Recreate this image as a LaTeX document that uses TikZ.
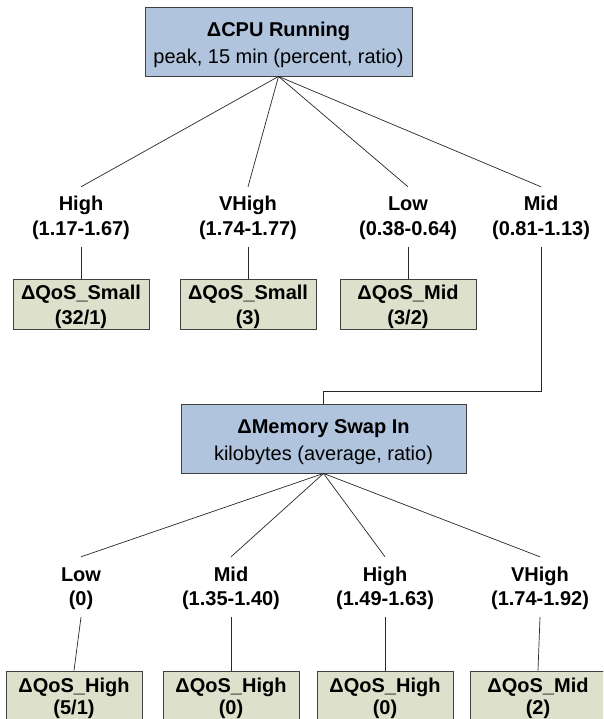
\documentclass[tikz,border=0pt]{standalone}
\usepackage{fontspec}
\setmainfont{Liberation Sans}
\definecolor{boxblue}{RGB}{176,196,222}
\definecolor{boxsage}{RGB}{221,225,203}
\definecolor{rimgray}{RGB}{64,64,64}
\definecolor{wiregray}{RGB}{40,40,40}
% two centred lines; the first baseline sits #1 above the node centre
\newcommand\twoline[3]{\raisebox{#1}[0pt][0pt]{\begin{tabular}[t]{@{}c@{}}#2\\#3\end{tabular}}}

\begin{document}
\begin{tikzpicture}[x=1pt,y=-1pt,
  metric/.style={draw=rimgray,fill=boxblue,line width=0.9pt,minimum height=69pt,
    inner sep=0pt,font=\fontsize{20}{27}\selectfont},
  verdict/.style={draw=rimgray,fill=boxsage,line width=0.9pt,minimum width=136pt,
    minimum height=50pt,inner sep=0pt,font=\bfseries\fontsize{20}{25}\selectfont},
  lowverdict/.style={verdict,font=\bfseries\fontsize{20}{22}\selectfont},
  cutlabel/.style={inner sep=0pt,minimum height=60pt,font=\bfseries\fontsize{20}{24}\selectfont},
  link/.style={draw=wiregray,line width=0.7pt}]

\clip (0,0) rectangle (603,719);
\fill[white] (0,0) rectangle (603,719);

% root split
\node[metric,minimum width=267pt] (cpu) at (278.5,41.5)
  {\twoline{4.5pt}{\textbf{ΔCPU Running}}{peak, 15 min (percent, ratio)}};

\node[cutlabel] (c1) at (81,217)  {\twoline{6pt}{High}{(1.17-1.67)}};
\node[cutlabel] (c2) at (248,217) {\twoline{6pt}{VHigh}{(1.74-1.77)}};
\node[cutlabel] (c3) at (408,217) {\twoline{6pt}{Low}{(0.38-0.64)}};
\node[cutlabel] (c4) at (541,217) {\twoline{6pt}{Mid}{(0.81-1.13)}};

\node[verdict] (q1) at (81,304)  {\twoline{5pt}{ΔQoS\_Small}{(32/1)}};
\node[verdict] (q2) at (248,304) {\twoline{5pt}{ΔQoS\_Small}{(3)}};
\node[verdict] (q3) at (408,304) {\twoline{5pt}{ΔQoS\_Mid}{(3/2)}};

% second split
\node[metric,minimum width=285pt] (mem) at (323.5,438.5)
  {\twoline{5.5pt}{\textbf{ΔMemory Swap In}}{kilobytes (average, ratio)}};

\node[cutlabel] (d1) at (81,587)  {\twoline{6pt}{Low}{(0)}};
\node[cutlabel] (d2) at (231,587) {\twoline{6pt}{Mid}{(1.35-1.40)}};
\node[cutlabel] (d3) at (385,587) {\twoline{6pt}{High}{(1.49-1.63)}};
\node[cutlabel] (d4) at (540,587) {\twoline{6pt}{VHigh}{(1.74-1.92)}};

\node[lowverdict] (r1) at (74,696)  {\twoline{4pt}{ΔQoS\_High}{(5/1)}};
\node[lowverdict] (r2) at (231,696) {\twoline{4pt}{ΔQoS\_High}{(0)}};
\node[lowverdict] (r3) at (385,696) {\twoline{4pt}{ΔQoS\_High}{(0)}};
\node[lowverdict] (r4) at (538,696) {\twoline{4pt}{ΔQoS\_Mid}{(2)}};

% connectors
\foreach \t in {c1,c2,c3,c4} \draw[link] (cpu.south) -- (\t.north);
\foreach \a/\b in {c1/q1,c2/q2,c3/q3} \draw[link] (\a.south) -- (\b.north);
\coordinate (turn) at (541,391);
\draw[link] (c4.south) -- (turn) -| (mem.north);
\foreach \t in {d1,d2,d3,d4} \draw[link] (mem.south) -- (\t.north);
\foreach \a/\b in {d1/r1,d2/r2,d3/r3,d4/r4} \draw[link] (\a.south) -- (\b.north);
\end{tikzpicture}
\end{document}
